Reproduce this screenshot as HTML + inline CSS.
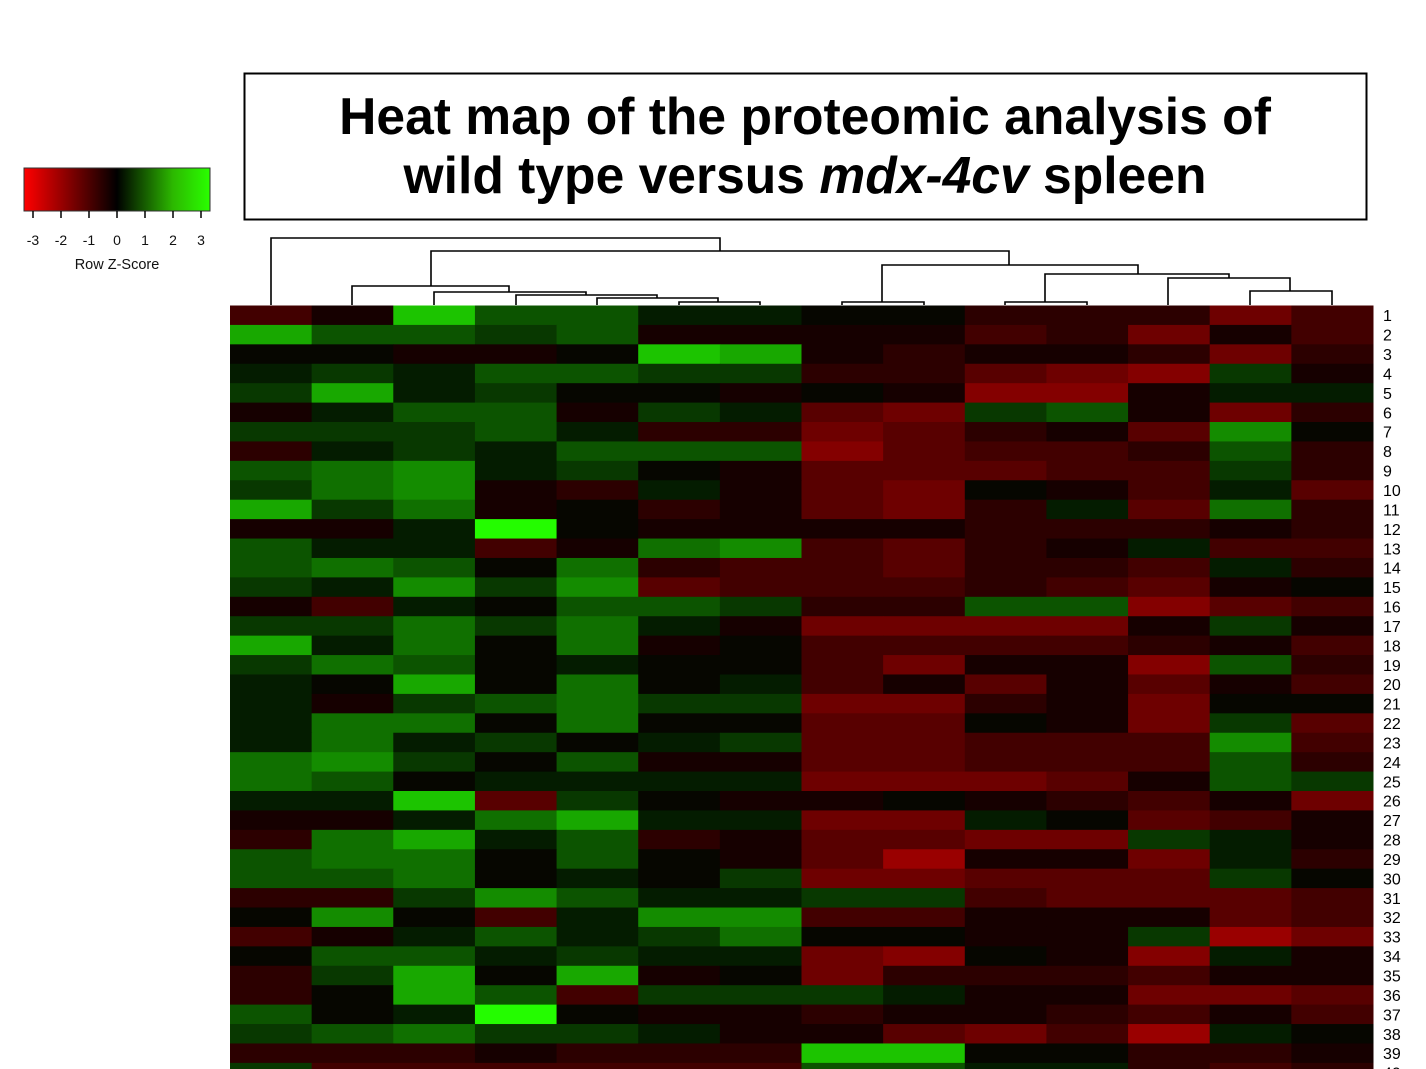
<!DOCTYPE html>
<html><head><meta charset="utf-8"><style>
body{margin:0;background:#fff;}
svg{display:block;font-family:"Liberation Sans",Arial,sans-serif;}
</style></head><body>
<svg id="s" width="1426" height="1069" viewBox="0 0 1426 1069" xmlns="http://www.w3.org/2000/svg">
<defs><linearGradient id="g" x1="0" x2="1" y1="0" y2="0">
<stop offset="0" stop-color="#ff0000"/><stop offset="0.5" stop-color="#000000"/><stop offset="0.8" stop-color="#2cb800"/><stop offset="1" stop-color="#2aff00"/></linearGradient></defs>
<rect x="24" y="168" width="186" height="43" fill="url(#g)" stroke="#333" stroke-width="1"/>
<g stroke="#000" stroke-width="1.5">
<line x1="33" y1="211" x2="33" y2="218"/><line x1="61" y1="211" x2="61" y2="218"/><line x1="89" y1="211" x2="89" y2="218"/><line x1="117" y1="211" x2="117" y2="218"/><line x1="145" y1="211" x2="145" y2="218"/><line x1="173" y1="211" x2="173" y2="218"/><line x1="201" y1="211" x2="201" y2="218"/>
</g>
<g font-size="14" text-anchor="middle" fill="#111">
<text x="33" y="245">-3</text><text x="61" y="245">-2</text><text x="89" y="245">-1</text><text x="117" y="245">0</text><text x="145" y="245">1</text><text x="173" y="245">2</text><text x="201" y="245">3</text>
<text x="117" y="269" font-size="14.5">Row Z-Score</text>
</g>
<rect x="244.5" y="73.5" width="1122" height="146" fill="none" stroke="#000" stroke-width="2"/>
<g font-size="51.6" font-weight="bold" text-anchor="middle" fill="#000">
<text x="805" y="134">Heat map of the proteomic analysis of</text>
<text x="805" y="193">wild type versus <tspan font-style="italic">mdx-4cv</tspan> spleen</text>
</g>
<g stroke="#000" stroke-width="1.6" fill="none">
<path d="M271 305V238H720V251"/>
<path d="M431 286V251H1009V265"/>
<path d="M352 305V286H509V292"/>
<path d="M434 305V292H586V295"/>
<path d="M516 305V295H657V298"/>
<path d="M597 305V298H718V302"/>
<path d="M679 305V302H760V305"/>
<path d="M882 302V265H1138V274"/>
<path d="M842 305V302H924V305"/>
<path d="M1045 302V274H1229V278"/>
<path d="M1005 305V302H1087V305"/>
<path d="M1168 305V278H1290V291"/>
<path d="M1250 305V291H1332V305"/>
</g>
<g id="hm"></g>
<g id="lab" font-size="16" fill="#000"></g>
</svg>
<script>
var D=[
[-3,-1,7,3,3,1,1,0,0,-2,-2,-2,-5,-3],
[6,3,3,2,3,-1,-1,-1,-1,-3,-2,-5,-1,-3],
[0,0,-1,-1,0,7,6,-1,-2,-1,-1,-2,-5,-2],
[1,2,1,3,3,2,2,-2,-2,-4,-5,-6,2,-1],
[2,6,1,2,0,0,-1,0,-1,-6,-6,-1,1,1],
[-1,1,3,3,-1,2,1,-4,-5,2,3,-1,-5,-2],
[2,2,2,3,1,-2,-2,-5,-4,-2,-1,-4,5,0],
[-2,1,2,1,3,3,3,-6,-4,-3,-3,-2,3,-2],
[3,4,5,1,2,0,-1,-4,-4,-4,-3,-3,2,-2],
[2,4,5,-1,-2,1,-1,-4,-5,0,-1,-3,1,-4],
[6,2,4,-1,0,-2,-1,-4,-5,-2,1,-4,4,-2],
[-1,-1,1,9,0,-1,-1,-1,-1,-2,-2,-2,-1,-2],
[3,1,1,-3,-1,4,5,-3,-4,-2,-1,1,-3,-3],
[3,4,3,0,4,-2,-3,-3,-4,-2,-2,-3,1,-2],
[2,1,5,2,5,-4,-3,-3,-3,-2,-3,-4,-1,0],
[-1,-3,1,0,3,3,2,-2,-2,3,3,-6,-4,-3],
[2,2,4,2,4,1,-1,-5,-5,-5,-5,-1,2,-1],
[6,1,4,0,4,-1,0,-3,-3,-3,-3,-2,-1,-3],
[2,4,3,0,1,0,0,-3,-5,-1,-1,-6,3,-2],
[1,0,6,0,4,0,1,-3,-1,-4,-1,-4,-1,-3],
[1,-1,2,3,4,2,2,-5,-5,-2,-1,-5,0,0],
[1,4,4,0,4,0,0,-4,-4,0,-1,-5,2,-4],
[1,4,1,2,0,1,2,-4,-4,-3,-3,-3,5,-3],
[4,5,2,0,3,-1,-1,-4,-4,-3,-3,-3,3,-2],
[4,3,0,1,1,1,1,-5,-5,-5,-4,-1,3,2],
[1,1,7,-4,2,0,-1,-1,0,-1,-2,-3,-1,-5],
[-1,-1,1,4,6,1,1,-5,-5,1,0,-4,-3,-1],
[-2,4,6,1,3,-2,-1,-4,-4,-5,-5,2,1,-1],
[3,4,4,0,3,0,-1,-4,-7,-1,-1,-5,1,-2],
[3,3,4,0,1,0,2,-5,-5,-4,-4,-4,2,0],
[-2,-2,2,5,3,1,1,2,2,-3,-4,-4,-4,-3],
[0,5,0,-3,1,5,5,-3,-3,-1,-1,-1,-4,-3],
[-3,-1,1,3,1,2,4,0,0,-1,-1,2,-7,-5],
[0,3,3,1,2,1,1,-5,-6,0,-1,-6,1,-1],
[-2,2,6,0,6,-1,0,-5,-2,-2,-2,-3,-1,-1],
[-2,0,6,3,-3,2,2,2,1,-1,-1,-5,-5,-4],
[3,0,1,9,0,-1,-1,-2,-1,-1,-2,-3,-1,-3],
[2,3,4,2,2,1,-1,-1,-4,-5,-3,-7,1,0],
[-2,-2,-2,-1,-2,-2,-2,7,7,0,0,-2,-2,-1],
[2,-3,-3,-3,-3,-3,-3,3,3,1,1,-2,-3,-2]
];
function col(v){if(v>0)return "rgb("+Math.round(v*4)+","+Math.min(255,Math.round(v*28))+",0)";if(v<0)return "rgb("+Math.round(-v*22)+",0,0)";return "rgb(6,6,0)";}
var ns="http://www.w3.org/2000/svg",hm=document.getElementById("hm"),lab=document.getElementById("lab");
var x0=230,cw=(1373-230)/14,y0=305.5,rh=19.42;
for(var r=0;r<D.length;r++){for(var c=0;c<14;c++){var e=document.createElementNS(ns,"rect");
e.setAttribute("x",(x0+c*cw).toFixed(2));e.setAttribute("y",(y0+r*rh).toFixed(2));
e.setAttribute("width",(cw+0.5).toFixed(2));e.setAttribute("height",(rh+0.5).toFixed(2));
e.setAttribute("fill",col(D[r][c]));hm.appendChild(e);}
var t=document.createElementNS(ns,"text");t.setAttribute("x",1383);t.setAttribute("y",(y0+r*rh+rh/2+6).toFixed(1));t.textContent=r+1;lab.appendChild(t);}
</script>
</body></html>
